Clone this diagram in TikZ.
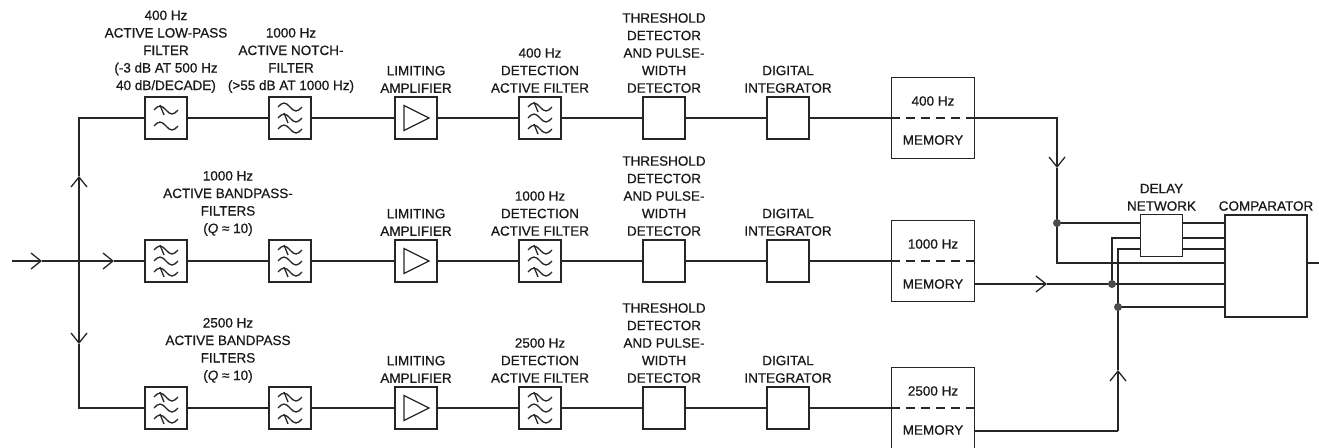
\documentclass[tikz,border=0pt]{standalone}
\usepackage{fontspec}
\setmainfont{Liberation Sans}
\newfontfamily\lblfont{Liberation Sans}[FakeBold=0.6]
\usetikzlibrary{arrows.meta}

\tikzset{
  blk/.style={draw=black!85, line width=1.3pt, minimum width=42pt, minimum height=42pt},
  membox/.style={draw=black!85, line width=1.3pt, minimum width=83pt, minimum height=81pt},
  lbl/.style={align=center, text=black!90, font=\lblfont\fontsize{13.5}{17.5}\selectfont},
  wire/.style={draw=black!85, line width=1.3pt},
  arr/.style={wire, -{Straight Barb[length=10pt,width=16pt,line width=1.3pt]}},
  memdash/.style={draw=black!85, line width=1.3pt, dash pattern=on 9pt off 6pt},
  jdot/.style={circle, fill=black!70, minimum size=8pt},
  symline/.style={draw=black!85, line width=1.3pt},
  wave/.pic={\draw[symline] (-12,0) sin (-6,-4) cos (0,0) sin (6,4) cos (12,0);},
  cut/.pic={\draw[symline] (-6,-5) -- (-2,5);},
  lowsym/.pic={\pic at (0,-8) {wave}; \pic at (0,8) {wave}; \pic at (0,-8) {cut};},
  bandsym/.pic={\pic at (0,-11) {wave}; \pic at (0,0) {wave}; \pic at (0,11) {wave};
    \pic at (0,-11) {cut}; \pic at (0,11) {cut};},
  notchsym/.pic={\pic at (0,-11) {wave}; \pic at (0,0) {wave}; \pic at (0,11) {wave};
    \pic at (0,0) {cut};},
  ampsym/.pic={\draw[symline] (-12,-12.5) -- (-12,12.5) -- (13,0) -- cycle;}
}

\begin{document}
\begin{tikzpicture}[x=1pt,y=-1pt]
\tikzstyle{every node}+=[inner sep=0pt]
\useasboundingbox (0,0) rectangle (1319,447);
\node[blk] (f1a) at (166,118) {};
\pic at (f1a) {lowsym};
\node[blk] (f1b) at (290,118) {};
\pic at (f1b) {notchsym};
\node[blk] (amp1) at (416,118) {};
\pic at (amp1) {ampsym};
\node[blk] (det1) at (540,118) {};
\pic at (det1) {bandsym};
\node[blk] (thr1) at (664,118) {};
\node[blk] (int1) at (788,118) {};
\node[membox] (mem1) at (933,118) {};
\draw[memdash] (mem1.west) -- (mem1.east);
\node[lbl,anchor=south] (f1alb) at (166,93) {400 Hz\\ACTIVE LOW-PASS\\FILTER\\(-3 dB AT 500 Hz\\40 dB/DECADE)};
\node[lbl,anchor=south] (f1blb) at (291,93) {1000 Hz\\ACTIVE NOTCH-\\FILTER\\(>55 dB AT 1000 Hz)};
\node[lbl,anchor=south] (amp1lb) at (416,93) {LIMITING\\AMPLIFIER};
\node[lbl,anchor=south] (det1lb) at (540,93) {400 Hz\\DETECTION\\ACTIVE FILTER};
\node[lbl,anchor=south] (thr1lb) at (664,93) {THRESHOLD\\DETECTOR\\AND PULSE-\\WIDTH\\DETECTOR};
\node[lbl,anchor=south] (int1lb) at (788,93) {DIGITAL\\INTEGRATOR};
\node[lbl] (mem1hz) at (933,101) {400 Hz};
\node[lbl] (mem1lb) at (933,140) {MEMORY};
\node[blk] (f2a) at (166,261) {};
\pic at (f2a) {bandsym};
\node[blk] (f2b) at (290,261) {};
\pic at (f2b) {bandsym};
\node[blk] (amp2) at (416,261) {};
\pic at (amp2) {ampsym};
\node[blk] (det2) at (540,261) {};
\pic at (det2) {bandsym};
\node[blk] (thr2) at (664,261) {};
\node[blk] (int2) at (788,261) {};
\node[membox] (mem2) at (933,261) {};
\draw[memdash] (mem2.west) -- (mem2.east);
\node[lbl,anchor=south] (f2lb) at (228,236) {1000 Hz\\ACTIVE BANDPASS-\\FILTERS\\(\textit{Q} ≈ 10)};
\node[lbl,anchor=south] (amp2lb) at (416,236) {LIMITING\\AMPLIFIER};
\node[lbl,anchor=south] (det2lb) at (540,236) {1000 Hz\\DETECTION\\ACTIVE FILTER};
\node[lbl,anchor=south] (thr2lb) at (664,236) {THRESHOLD\\DETECTOR\\AND PULSE-\\WIDTH\\DETECTOR};
\node[lbl,anchor=south] (int2lb) at (788,236) {DIGITAL\\INTEGRATOR};
\node[lbl] (mem2hz) at (933,244) {1000 Hz};
\node[lbl] (mem2lb) at (933,284) {MEMORY};
\node[blk] (f3a) at (166,408) {};
\pic at (f3a) {bandsym};
\node[blk] (f3b) at (290,408) {};
\pic at (f3b) {bandsym};
\node[blk] (amp3) at (416,408) {};
\pic at (amp3) {ampsym};
\node[blk] (det3) at (540,408) {};
\pic at (det3) {bandsym};
\node[blk] (thr3) at (664,408) {};
\node[blk] (int3) at (788,408) {};
\node[membox] (mem3) at (933,408) {};
\draw[memdash] (mem3.west) -- (mem3.east);
\node[lbl,anchor=south] (f3lb) at (228,383) {2500 Hz\\ACTIVE BANDPASS\\FILTERS\\(\textit{Q} ≈ 10)};
\node[lbl,anchor=south] (amp3lb) at (416,383) {LIMITING\\AMPLIFIER};
\node[lbl,anchor=south] (det3lb) at (540,383) {2500 Hz\\DETECTION\\ACTIVE FILTER};
\node[lbl,anchor=south] (thr3lb) at (664,383) {THRESHOLD\\DETECTOR\\AND PULSE-\\WIDTH\\DETECTOR};
\node[lbl,anchor=south] (int3lb) at (788,383) {DIGITAL\\INTEGRATOR};
\node[lbl] (mem3hz) at (933,391) {2500 Hz};
\node[lbl] (mem3lb) at (933,430) {MEMORY};
\node[blk] (delay) at (1161.5,235.5) {};
\node[blk, minimum width=82pt, minimum height=102pt] (comp) at (1266,266) {};
\node[lbl,anchor=south] (delaylb) at (1161.5,211) {DELAY\\NETWORK};
\node[lbl,anchor=south] (complb) at (1266,211) {COMPARATOR};
\coordinate (in) at (12,261);
\coordinate (inarr) at (42,261);
\coordinate (sp) at (79,261);
\coordinate (uparr) at (79,176);
\coordinate (dnarr) at (79,344);
\coordinate (midarr) at (114,261);
\coordinate (j1) at (1057,223);
\coordinate (j2) at (1112,284);
\coordinate (j3) at (1118,307);
\coordinate (k1) at (1057,263);
\coordinate (k2) at (1112,238);
\coordinate (k3) at (1118,249);
\coordinate (k4) at (1118,431);
\coordinate (a1) at (1057,168);
\coordinate (a2) at (1047,284);
\coordinate (a3) at (1118,370);
\coordinate (out) at (1319,263);
\draw[arr] (in) -- (inarr);
\draw[wire] (inarr) -- (sp);
\draw[arr] (sp) -- (uparr);
\draw[wire] (uparr) |- (f1a);
\draw[arr] (sp) -- (dnarr);
\draw[wire] (dnarr) |- (f3a);
\draw[arr] (sp) -- (midarr);
\draw[wire] (midarr) -- (f2a);
\draw[wire] (f1a) -- (f1b) -- (amp1) -- (det1) -- (thr1) -- (int1) -- (mem1);
\draw[wire] (f2a) -- (f2b) -- (amp2) -- (det2) -- (thr2) -- (int2) -- (mem2);
\draw[wire] (f3a) -- (f3b) -- (amp3) -- (det3) -- (thr3) -- (int3) -- (mem3);
\draw[arr] (mem1.east) -| (a1);
\draw[wire] (a1) -- (k1) -- (k1 -| comp.west);
\draw[wire] (j1) -- (j1 -| delay.west);
\draw[wire] (delay.east |- j1) -- (j1 -| comp.west);
\draw[wire] (delay.east |- k2) -- (k2 -| comp.west);
\draw[wire] (delay.east |- k3) -- (k3 -| comp.west);
\draw[wire] (j2) -- (k2) -- (k2 -| delay.west);
\draw[wire] (j3) -- (k3) -- (k3 -| delay.west);
\draw[arr] (mem2.east |- j2) -- (a2);
\draw[wire] (a2) -- (j2) -- (j2 -| comp.west);
\draw[wire] (mem3.east |- k4) -- (k4);
\draw[arr] (k4) -- (a3);
\draw[wire] (a3) -- (j3) -- (j3 -| comp.west);
\draw[wire] (comp.east |- out) -- (out);
\node[jdot] (d1) at (j1) {};
\node[jdot] (d2) at (j2) {};
\node[jdot] (d3) at (j3) {};
\end{tikzpicture}
\end{document}
